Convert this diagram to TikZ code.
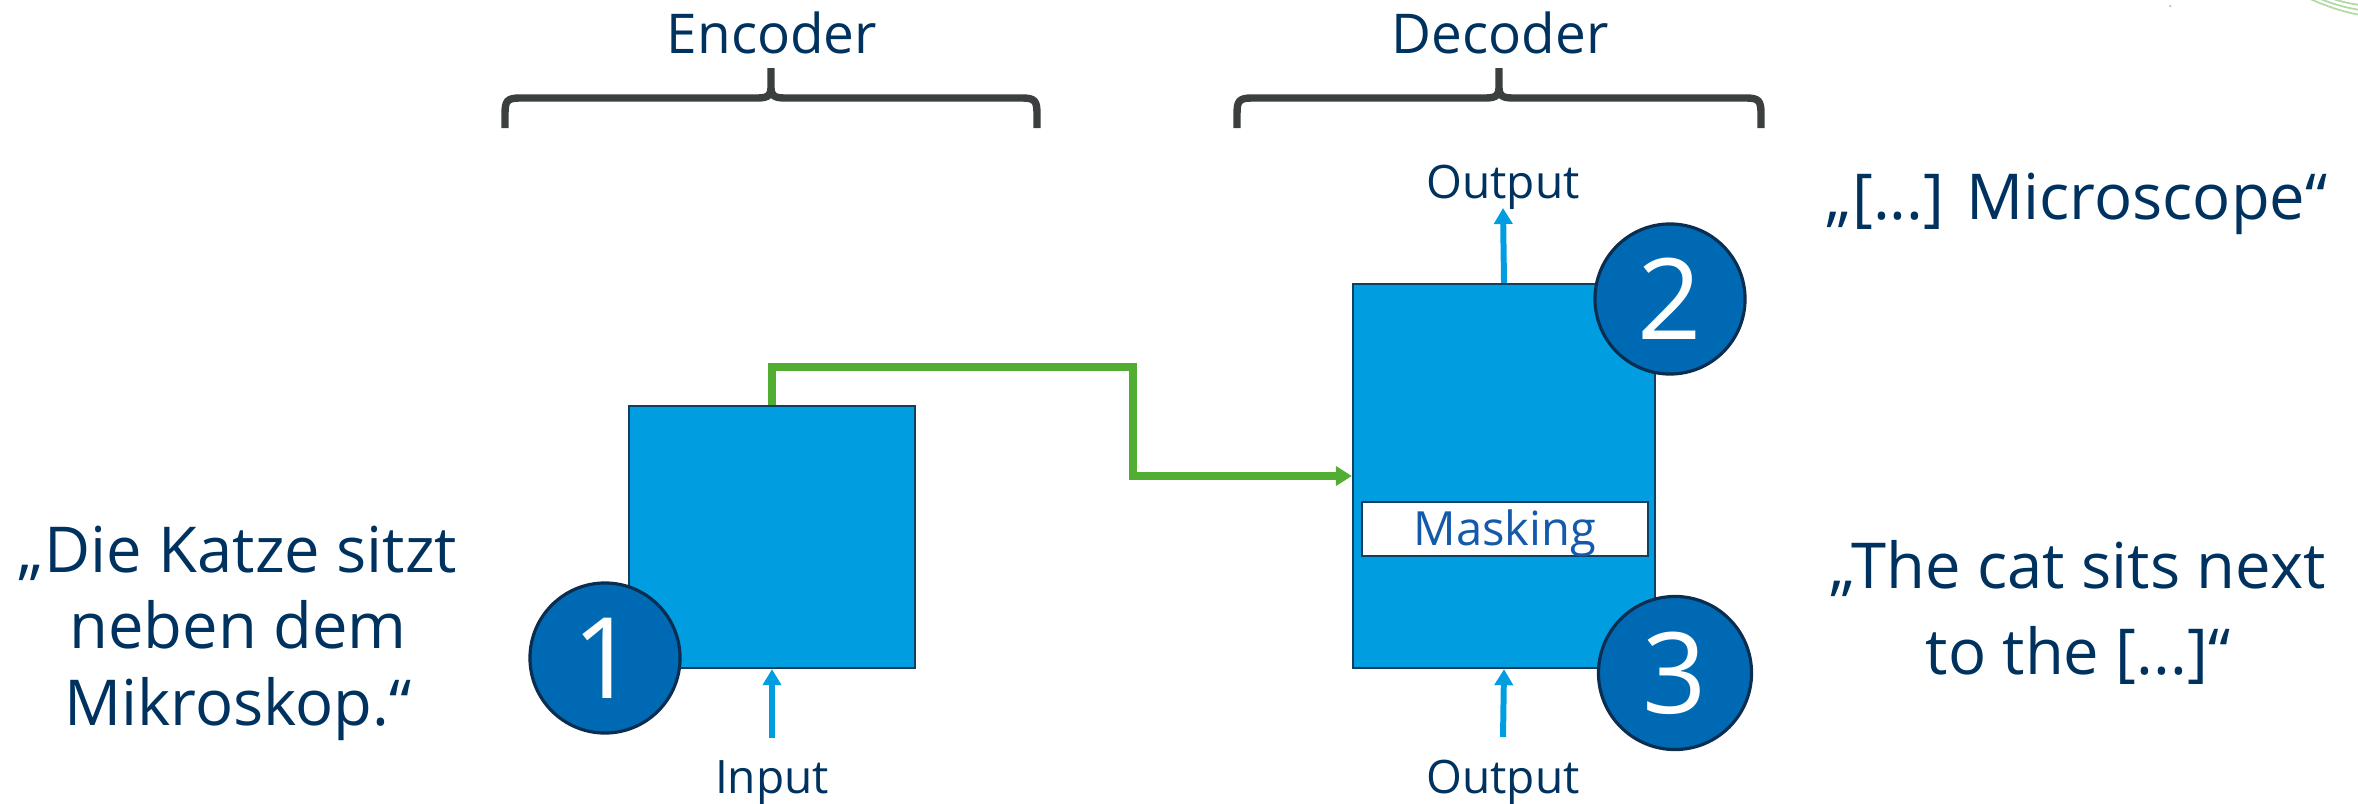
\documentclass[tikz,border=0pt]{standalone}
\usepackage{fontspec}
\setmainfont{Open Sans}
\usetikzlibrary{arrows.meta}
\definecolor{navy}{RGB}{0,50,95}
\definecolor{boxblue}{RGB}{0,158,224}
\definecolor{boxline}{RGB}{18,62,95}
\definecolor{circblue}{RGB}{0,105,180}
\definecolor{circline}{RGB}{10,45,80}
\definecolor{maskblue}{RGB}{20,90,170}
\definecolor{flowgreen}{RGB}{82,174,50}
\definecolor{bracegray}{RGB}{60,63,63}
\definecolor{arrowblue}{RGB}{0,158,224}
\begin{document}
\begin{tikzpicture}[x=0.01cm,y=-0.01cm,
  box/.style={draw=boxline, line width=0.6pt, fill=boxblue, inner sep=0pt},
  numc/.style={circle, draw=circline, line width=0.9pt, fill=circblue, text=white,
    minimum size=1.5cm, inner sep=0pt, font=\fontsize{32}{32}\selectfont},
  lbl/.style={text=navy, inner sep=0pt, anchor=base},
  small/.style={font=\fontsize{13.1}{15}\selectfont},
  head/.style={font=\fontsize{15.6}{18}\selectfont},
  flow/.style={draw=flowgreen, line width=2.1pt, -{Triangle[width=0.19cm,length=0.16cm]}},
  feed/.style={draw=arrowblue, line width=1.7pt, -{Triangle[width=0.18cm,length=0.16cm]}},
  bracepath/.style={draw=bracegray, line width=2.1pt},
  swirl/.style={draw=flowgreen!45, line width=0.5pt}
]
\useasboundingbox (0,0) rectangle (2358,803);

% boxes
\node[box, minimum width=2.86cm, minimum height=2.62cm] (enc) at (772,537) {};
\node[box, minimum width=3.02cm, minimum height=3.84cm] (dec) at (1504,476) {};
\node[draw=boxline, line width=0.6pt, fill=white, inner sep=0pt,
      minimum width=2.86cm, minimum height=0.54cm] (mask) at (1505,529) {};
\node[text=maskblue, font=\fontsize{13.4}{15}\selectfont, inner sep=0pt, anchor=base] (masktxt) at (1505,545) {Masking};

% labels
\node[lbl, head] (enclbl) at (772,53) {Encoder};
\node[lbl, head] (declbl) at (1500,53) {Decoder};
\node[lbl, small] (inlbl) at (772,793) {Input};
\node[lbl, small] (outtop) at (1503,198) {Output};
\node[lbl, small] (outbot) at (1503,793) {Output};

% braces
\draw[bracepath] (505,128) -- (505,114) .. controls (505,101) and (507,98) .. (520,98)
  -- (757,98) .. controls (767,98) and (771,96) .. (771,88) -- (771,68);
\draw[bracepath] (1037,128) -- (1037,114) .. controls (1037,101) and (1035,98) .. (1022,98)
  -- (785,98) .. controls (775,98) and (771,96) .. (771,88);
\draw[bracepath] (1237,128) -- (1237,114) .. controls (1237,101) and (1239,98) .. (1252,98)
  -- (1485,98) .. controls (1495,98) and (1499,96) .. (1499,88) -- (1499,68);
\draw[bracepath] (1761,128) -- (1761,114) .. controls (1761,101) and (1759,98) .. (1746,98)
  -- (1513,98) .. controls (1503,98) and (1499,96) .. (1499,88);

% green flow
\coordinate (gbend) at (1133,367);
\draw[flow] (enc.north) |- (gbend) |- (dec.west);

% blue arrows
\coordinate (inS) at (772,738);
\coordinate (outTopTip) at (1503,208);
\coordinate (outBotS) at (1503,737);
\draw[feed] (inS) -- (enc.south);
\draw[feed] (dec.north) -- (outTopTip);
\draw[feed] (outBotS) -- (dec.south);

% numbered circles
\node[numc] (c1) at (605,658) {1};
\node[numc] (c2) at (1670,299) {2};
\node[numc, minimum size=1.53cm] (c3) at (1675,673) {3};

% sentences
\node[lbl, font=\fontsize{18}{21.8}\selectfont] (german) at (238,572)
  {\setlength\tabcolsep{0pt}\begin{tabular}[t]{c}„Die Katze sitzt\\ neben dem\\ Mikroskop.“\end{tabular}};
\node[lbl, font=\fontsize{18}{21.8}\selectfont] (micro) at (2077,219) {„[...] Microscope“};
\node[lbl, font=\fontsize{18}{24.5}\selectfont] (english) at (2078,588)
  {\setlength\tabcolsep{0pt}\begin{tabular}[t]{c}„The cat sits next\\ to the [...]“\end{tabular}};

% decorative swirl (top right)
\draw[swirl] (2308,-2) .. controls (2330,8) and (2345,12) .. (2360,15);
\draw[swirl] (2318,-2) .. controls (2335,5) and (2348,8) .. (2360,10);
\draw[swirl] (2330,-2) .. controls (2342,2) and (2352,4) .. (2360,5);
\fill[flowgreen!45] (2170,6) circle (1.5);
\end{tikzpicture}
\end{document}
